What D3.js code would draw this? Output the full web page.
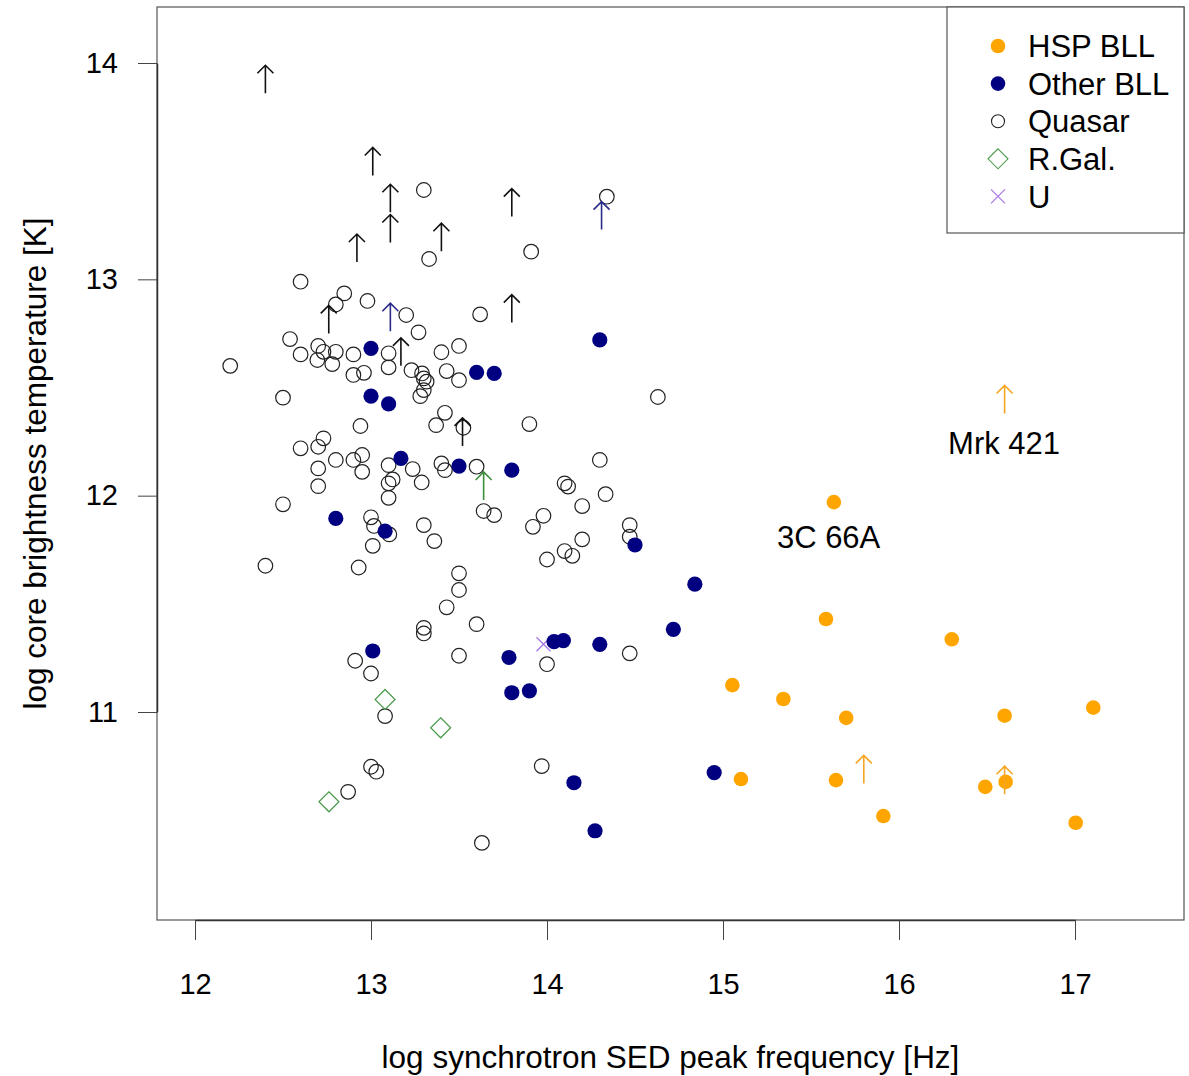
<!DOCTYPE html>
<html>
<head>
<meta charset="utf-8">
<script src="https://cdn.jsdelivr.net/npm/d3@7"></script>
<style>
  html, body { margin: 0; padding: 0; background: #fff; }
  svg { display: block; }
  text { font-family: "Liberation Sans", Arial, Helvetica, sans-serif; fill: #000; }
</style>
</head>
<body>
<svg id="chart" width="1189" height="1076"></svg>
<script>
// ---------------- DATA ----------------
const xTicks = [12, 13, 14, 15, 16, 17];
const yTicks = [11, 12, 13, 14];
const categories = ["HSP BLL", "Other BLL", "Quasar", "R.Gal.", "U"];

const hspX = [15.63, 15.585, 16.30, 15.053, 15.343, 15.70, 16.60, 17.104, 15.102, 15.642, 15.911, 16.49, 16.606, 17.004];
const hspY = [11.97, 11.43, 11.336, 11.124, 11.06, 10.973, 10.983, 11.02, 10.69, 10.685, 10.519, 10.654, 10.677, 10.488];

const otherX = [13.00, 13.00, 13.10, 13.17, 12.80, 13.08, 13.01, 14.30, 13.60, 13.70, 13.50, 13.80, 14.50, 14.718, 14.04, 14.093, 14.30, 13.784, 13.80, 13.90, 14.153, 14.273, 14.84, 14.95];
const otherY = [12.681, 12.46, 12.424, 12.172, 11.895, 11.836, 11.282, 12.72, 12.57, 12.565, 12.137, 12.118, 11.772, 11.382, 11.325, 11.33, 11.313, 11.252, 11.089, 11.098, 10.673, 10.451, 11.591, 10.72];

const quasarX = [12.20, 12.40, 12.50, 12.50, 12.54, 12.60, 12.60, 12.60, 12.695, 12.70,
  12.70, 12.70, 12.70, 12.73, 12.73, 12.78, 12.80, 12.80, 12.80, 12.848,
  12.87, 12.90, 12.90, 12.90, 12.91, 12.93, 12.94, 12.95, 12.95, 12.96,
  12.98, 13.00, 13.00, 13.00, 13.01, 13.017, 13.03, 13.08, 13.10, 13.10,
  13.10, 13.10, 13.10, 13.104, 13.123, 13.20, 13.23, 13.237, 13.27, 13.28,
  13.288, 13.29, 13.30, 13.30, 13.30, 13.30, 13.30, 13.30, 13.316, 13.33,
  13.36, 13.37, 13.40, 13.40, 13.42, 13.42, 13.43, 13.43, 13.50, 13.50,
  13.50, 13.50, 13.50, 13.525, 13.60, 13.60, 13.62, 13.63, 13.64, 13.70,
  13.90, 13.91, 13.92, 13.97, 13.98, 14.00, 14.00, 14.10, 14.10, 14.12,
  14.144, 14.20, 14.20, 14.30, 14.333, 14.34, 14.47, 14.47, 14.47, 14.63];
const quasarY = [12.60, 11.676, 12.453, 11.96, 12.724, 12.989, 12.653, 12.219, 12.627, 12.692,
  12.226, 12.126, 12.044, 12.665, 12.265, 12.608, 12.884, 12.665, 12.165, 12.935,
  10.631, 12.653, 12.558, 12.165, 11.237, 11.668, 12.322, 12.188, 12.11, 12.568,
  12.90, 11.90, 11.178, 10.747, 11.768, 11.86, 10.724, 10.981, 12.658, 12.593,
  12.141, 12.057, 11.99, 11.821, 12.075, 12.835, 12.58, 12.123, 12.755, 12.46,
  12.061, 12.565, 13.413, 12.542, 12.488, 11.864, 11.389, 11.363, 12.527, 13.094,
  11.79, 12.326, 12.663, 12.149, 12.383, 12.118, 12.576, 11.484, 12.692, 12.534,
  11.641, 11.564, 11.26, 12.314, 12.134, 11.406, 12.838, 10.395, 11.929, 11.91,
  12.331, 13.128, 11.856, 10.75, 11.907, 11.705, 11.221, 12.057, 11.744, 12.042,
  11.722, 11.952, 11.798, 12.165, 12.007, 13.382, 11.864, 11.81, 11.271, 12.456];

const rgalX = [13.08, 13.396, 12.761];
const rgalY = [11.058, 10.927, 10.585];

const uX = [13.98];
const uY = [11.313];

// lower limits (arrows): value at the arrow base
const arrowX = [12.40, 13.01, 13.11, 13.11, 12.92, 13.40, 13.80, 13.80, 14.31, 12.76, 13.11, 13.17, 13.52, 13.64, 15.80, 16.60, 16.60];
const arrowY = [13.86, 13.48, 13.31, 13.17, 13.08, 13.13, 13.29, 12.80, 13.23, 12.75, 12.76, 12.60, 12.23, 11.98, 10.67, 10.62, 12.38];
const arrowType = ["Quasar", "Quasar", "Quasar", "Quasar", "Quasar", "Quasar", "Quasar", "Quasar", "Other BLL", "Quasar", "Other BLL", "Quasar", "Quasar", "R.Gal.", "HSP BLL", "HSP BLL", "HSP BLL"];

const labelText = ["3C 66A", "Mrk 421"];
const labelX = [15.60, 16.597];
const labelY = [11.81, 12.243];

const xTitle = "log synchrotron SED peak frequency [Hz]";
const yTitle = "log core brightness temperature [K]";

// ---------------- STYLE ----------------
const colors = { "HSP BLL": "#FFA500", "Other BLL": "#000080", "Quasar": "#222222", "R.Gal.": "#4a9a4a", "U": "#a877e6" };
const arrowColors = { "HSP BLL": "#F5A623", "Other BLL": "#2a2a88", "Quasar": "#111111", "R.Gal.": "#3a8f3a" };

// ---------------- LAYOUT ----------------
const W = 1189, H = 1076;
const plot = { left: 157, right: 1184, top: 7, bottom: 920 };

const x = d3.scaleLinear().domain([12, 17]).range([195, 1075]);
const y = d3.scaleLinear().domain([11, 14]).range([712, 63]);

const svg = d3.select("#chart");
svg.append("rect").attr("width", W).attr("height", H).attr("fill", "#fff");

// box
svg.append("rect")
  .attr("x", plot.left).attr("y", plot.top)
  .attr("width", plot.right - plot.left).attr("height", plot.bottom - plot.top)
  .attr("fill", "none").attr("stroke", "#555").attr("stroke-width", 1.2);

// axes
const xAxis = svg.append("g")
  .attr("transform", `translate(0,${plot.bottom})`)
  .call(d3.axisBottom(x).tickValues(xTicks).tickSize(20).tickSizeOuter(0).tickPadding(33).tickFormat(d3.format("d")));
const yAxis = svg.append("g")
  .attr("transform", `translate(${plot.left},0)`)
  .call(d3.axisLeft(y).tickValues(yTicks).tickSize(19).tickSizeOuter(0).tickPadding(20).tickFormat(d3.format("d")));

[xAxis, yAxis].forEach(g => {
  g.select(".domain").attr("stroke", "#333").attr("stroke-width", 1.5);
  g.selectAll(".tick line").attr("stroke", "#444").attr("stroke-width", 1);
  g.selectAll(".tick text")
    .attr("font-size", 29)
    .attr("font-family", '"Liberation Sans", Arial, sans-serif')
    .attr("fill", "#000");
});

// titles
svg.append("text")
  .attr("x", (plot.left + plot.right) / 2).attr("y", 1068)
  .attr("text-anchor", "middle").attr("font-size", 31.5)
  .text(xTitle);
svg.append("text")
  .attr("transform", `translate(46,${(plot.top + plot.bottom) / 2}) rotate(-90)`)
  .attr("text-anchor", "middle").attr("font-size", 31.5)
  .text(yTitle);

const gPts = svg.append("g");

// quasars: open circles
gPts.selectAll("circle.q").data(quasarX.map((v, i) => [v, quasarY[i]])).enter()
  .append("circle").attr("class", "q")
  .attr("cx", d => x(d[0])).attr("cy", d => y(d[1])).attr("r", 7.3)
  .attr("fill", "none").attr("stroke", colors["Quasar"]).attr("stroke-width", 1.2);

// radio galaxies: diamonds
gPts.selectAll("path.rg").data(rgalX.map((v, i) => [v, rgalY[i]])).enter()
  .append("path").attr("class", "rg")
  .attr("d", d => { const cx = x(d[0]), cy = y(d[1]), s = 10; return `M${cx},${cy - s}L${cx + s},${cy}L${cx},${cy + s}L${cx - s},${cy}Z`; })
  .attr("fill", "none").attr("stroke", colors["R.Gal."]).attr("stroke-width", 1.2);

// U: crosses
gPts.selectAll("path.u").data(uX.map((v, i) => [v, uY[i]])).enter()
  .append("path").attr("class", "u")
  .attr("d", d => { const cx = x(d[0]), cy = y(d[1]), s = 7; return `M${cx - s},${cy - s}L${cx + s},${cy + s}M${cx - s},${cy + s}L${cx + s},${cy - s}`; })
  .attr("fill", "none").attr("stroke", colors["U"]).attr("stroke-width", 1.3);

// other BLL
gPts.selectAll("circle.o").data(otherX.map((v, i) => [v, otherY[i]])).enter()
  .append("circle").attr("class", "o")
  .attr("cx", d => x(d[0])).attr("cy", d => y(d[1])).attr("r", 7.6)
  .attr("fill", colors["Other BLL"]);

// HSP BLL
gPts.selectAll("circle.h").data(hspX.map((v, i) => [v, hspY[i]])).enter()
  .append("circle").attr("class", "h")
  .attr("cx", d => x(d[0])).attr("cy", d => y(d[1])).attr("r", 7.3)
  .attr("fill", colors["HSP BLL"]);

// arrows (lower limits)
const arrLen = 28, headW = 8, headH = 8;
gPts.selectAll("path.arr").data(arrowX.map((v, i) => [v, arrowY[i], arrowType[i]])).enter()
  .append("path").attr("class", "arr")
  .attr("d", d => {
    const cx = x(d[0]), by = y(d[1]), ty = by - arrLen;
    return `M${cx},${by}L${cx},${ty}M${cx - headW},${ty + headH}L${cx},${ty}L${cx + headW},${ty + headH}`;
  })
  .attr("fill", "none").attr("stroke", d => arrowColors[d[2]]).attr("stroke-width", 1.6);

// labels
svg.selectAll("text.lab").data(labelText.map((t, i) => [t, labelX[i], labelY[i]])).enter()
  .append("text").attr("class", "lab")
  .attr("x", d => x(d[1])).attr("y", d => y(d[2])).attr("dy", "0.36em")
  .attr("text-anchor", "middle").attr("font-size", 31)
  .text(d => d[0]);

// legend
const lg = svg.append("g");
lg.append("rect").attr("x", 947).attr("y", plot.top).attr("width", 1184 - 947).attr("height", 233 - plot.top)
  .attr("fill", "#fff").attr("stroke", "#555").attr("stroke-width", 1.2);
const legY0 = 46, legDY = 37.6, symX = 998, txtX = 1028;
categories.forEach((c, i) => {
  const cy = legY0 + i * legDY;
  if (c === "HSP BLL" || c === "Other BLL") {
    lg.append("circle").attr("cx", symX).attr("cy", cy).attr("r", 7.3).attr("fill", colors[c]);
  } else if (c === "Quasar") {
    lg.append("circle").attr("cx", symX).attr("cy", cy).attr("r", 6.5).attr("fill", "none").attr("stroke", colors[c]).attr("stroke-width", 1.1);
  } else if (c === "R.Gal.") {
    const s = 10;
    lg.append("path").attr("d", `M${symX},${cy - s}L${symX + s},${cy}L${symX},${cy + s}L${symX - s},${cy}Z`)
      .attr("fill", "none").attr("stroke", colors[c]).attr("stroke-width", 1.1);
  } else {
    const s = 7;
    lg.append("path").attr("d", `M${symX - s},${cy - s}L${symX + s},${cy + s}M${symX - s},${cy + s}L${symX + s},${cy - s}`)
      .attr("fill", "none").attr("stroke", colors[c]).attr("stroke-width", 1.2);
  }
  lg.append("text").attr("x", txtX).attr("y", cy).attr("dy", "0.36em").attr("font-size", 31).text(c);
});
</script>
</body>
</html>
